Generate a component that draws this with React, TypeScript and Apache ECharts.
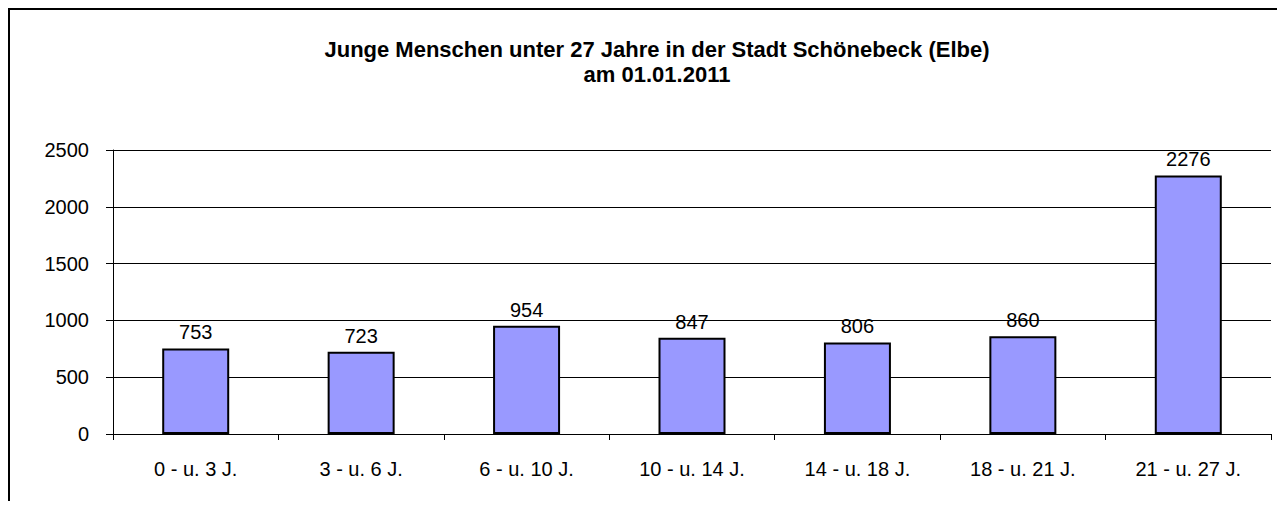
import React, { useEffect, useRef } from "react";
import * as echarts from "echarts";

const categories = ["0 - u. 3 J.", "3 - u. 6 J.", "6 - u. 10 J.", "10 - u. 14 J.", "14 - u. 18 J.", "18 - u. 21 J.", "21 - u. 27 J."];
const values = [753, 723, 954, 847, 806, 860, 2276];
const titleLines = ["Junge Menschen unter 27 Jahre in der Stadt Schönebeck (Elbe)", "am 01.01.2011"];

const FONT = "'Liberation Sans', Arial, sans-serif";

export default function App() {
  const ref = useRef<HTMLDivElement>(null);
  useEffect(() => {
    if (!ref.current) return;
    const chart = echarts.init(ref.current, undefined, { renderer: "svg" });
    chart.setOption({
      animation: false,
      backgroundColor: "#ffffff",
      textStyle: { fontFamily: FONT },
      title: {
        text: titleLines.join("\n"),
        left: 642,
        top: 22,
        textAlign: "center",
        textStyle: { fontFamily: FONT, fontSize: 22, fontWeight: "bold", color: "#000", lineHeight: 25 },
      },
      grid: { left: 103, right: 6, top: 140, bottom: 67 },
      xAxis: {
        type: "category",
        data: categories,
        boundaryGap: true,
        axisLine: { lineStyle: { color: "#000", width: 1 } },
        axisTick: { show: true, length: 6, lineStyle: { color: "#000" } },
        axisLabel: { color: "#000", fontSize: 20, fontFamily: FONT, margin: 25 },
      },
      yAxis: {
        type: "value",
        min: 0,
        max: 2500,
        interval: 500,
        axisLine: { show: true, lineStyle: { color: "#000", width: 1 } },
        axisTick: { show: true, length: 7, lineStyle: { color: "#000" } },
        axisLabel: { color: "#000", fontSize: 20, fontFamily: FONT, margin: 24, formatter: (v: number) => String(v) },
        splitLine: { show: true, lineStyle: { color: "#000", width: 1 } },
      },
      series: [
        {
          type: "bar",
          data: values,
          barWidth: 67,
          itemStyle: { color: "#9999FF", borderColor: "#000", borderWidth: 2 },
          label: { show: true, position: "top", distance: 6, color: "#000", fontSize: 20, fontFamily: FONT },
        },
      ],
    });
    return () => chart.dispose();
  }, []);
  return (
    <div style={{ borderLeft: "2px solid #000", borderTop: "2px solid #000", height: 491, background: "#fff" }}>
      <div ref={ref} style={{ width: 1267, height: 491 }} />
    </div>
  );
}
